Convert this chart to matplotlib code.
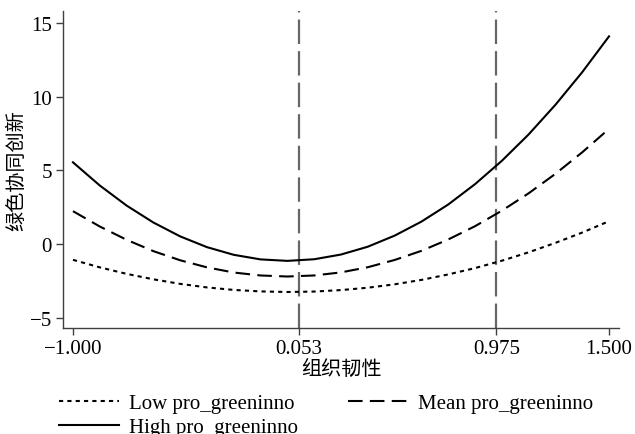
import numpy as np
import matplotlib
matplotlib.use("Agg")
from matplotlib import pyplot as plt

plt.rcParams['font.family'] = ['Liberation Serif', 'Noto Sans CJK SC', 'DejaVu Sans']
plt.rcParams['axes.unicode_minus'] = True

# organisational resilience (x) and predicted green collaborative innovation
resilience = [-1.0, -0.875, -0.75, -0.625, -0.5, -0.375, -0.25, -0.125, 0.0,
              0.125, 0.25, 0.375, 0.5, 0.625, 0.75, 0.875, 1.0,
              1.125, 1.25, 1.375, 1.5]
low_vals = [-1.07, -1.58, -2.02, -2.39, -2.70, -2.94, -3.11, -3.21, -3.25,
            -3.22, -3.12, -2.96, -2.73, -2.43, -2.06, -1.63, -1.13,
            -0.56, 0.08, 0.78, 1.55]
mean_vals = [2.23, 1.19, 0.29, -0.48, -1.10, -1.58, -1.93, -2.13, -2.20,
             -2.13, -1.92, -1.57, -1.08, -0.46, 0.31, 1.21, 2.26,
             3.44, 4.76, 6.22, 7.81]
high_vals = [5.54, 3.97, 2.61, 1.46, 0.52, -0.21, -0.73, -1.04, -1.14,
             -1.03, -0.71, -0.18, 0.57, 1.52, 2.68, 4.06, 5.64,
             7.43, 9.44, 11.65, 14.08]

ref_lines = [0.053, 0.975]
xticks = [-1.0, 0.053, 0.975, 1.5]
yticks = [-5, 0, 5, 10, 15]

fig = plt.figure(figsize=(6.35, 4.35), dpi=100)
ax = fig.add_axes([0.0992, 0.2437, 0.8756, 0.7294])

for xv in ref_lines:
    ax.axvline(xv, color='#666666', lw=1.6, dashes=(11, 3.2), zorder=1)

l_low, = ax.plot(resilience, low_vals, color='black', lw=1.5, dashes=(2.0, 2.0))
l_mean, = ax.plot(resilience, mean_vals, color='black', lw=1.5, dashes=(7, 3.5))
l_high, = ax.plot(resilience, high_vals, color='black', lw=1.5)

ax.set_xlim(-1.0466, 1.5466)
ax.set_ylim(-5.69, 15.82)
ax.set_xticks(xticks)
ax.set_xticklabels(['\u22121.000', '0.053', '0.975', '1.500'])
ax.set_yticks(yticks)
ax.set_yticklabels(['\u22125', '0', '5', '10', '15'])

for side in ('top', 'right'):
    ax.spines[side].set_visible(False)
for side in ('left', 'bottom'):
    ax.spines[side].set_color('#404040')
    ax.spines[side].set_linewidth(1.0)
ax.tick_params(direction='out', length=5, width=1.0, color='#404040',
               labelsize=15, pad=3)

ax.set_xlabel('组织韧性', fontsize=14.5, family=['Noto Sans CJK SC'], labelpad=0)
ax.set_ylabel('绿色协同创新', fontsize=14.5, family=['Noto Sans CJK SC'], labelpad=2)

# column-major fill: Low / High in the first column, Mean in the second
fig.legend([l_low, l_high, l_mean],
           ['Low pro_greeninno', 'High pro_greeninno', 'Mean pro_greeninno'],
           loc='upper left', bbox_to_anchor=(0.093, 0.093), ncol=2,
           frameon=False, fontsize=15, handlelength=2.9, handletextpad=0.45,
           columnspacing=2.4, labelspacing=0.22, borderaxespad=0,
           borderpad=0)

fig.savefig('out.png', dpi=100)
